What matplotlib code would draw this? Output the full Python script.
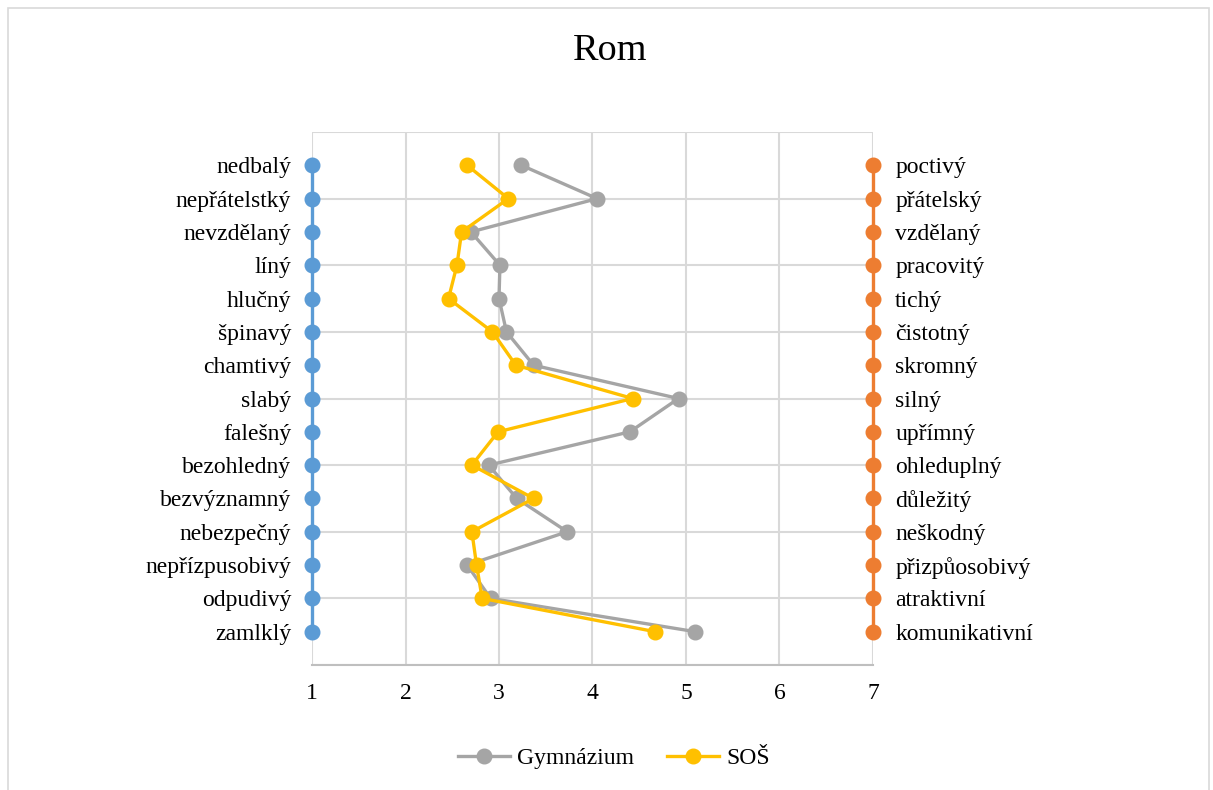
import matplotlib
matplotlib.use("Agg")
import matplotlib.pyplot as plt
from matplotlib.lines import Line2D

plt.rcParams['font.family'] = ['Liberation Serif', 'DejaVu Serif']

# Semantic differential: negative pole (left) and positive pole (right)
left_labels = ["nedbalý", "nepřátelstký", "nevzdělaný", "líný", "hlučný", "špinavý",
               "chamtivý", "slabý", "falešný", "bezohledný", "bezvýznamný",
               "nebezpečný", "nepřízpusobivý", "odpudivý", "zamlklý"]
right_labels = ["poctivý", "přátelský", "vzdělaný", "pracovitý", "tichý", "čistotný",
                "skromný", "silný", "upřímný", "ohleduplný", "důležitý",
                "neškodný", "přizpůosobivý", "atraktivní", "komunikativní"]

# Mean ratings on the 1–7 scale, listed top to bottom
gymnazium = [3.24, 4.05, 2.70, 3.01, 3.00, 3.08, 3.37, 4.92, 4.40, 2.89,
             3.19, 3.73, 2.66, 2.91, 5.10]
sos = [2.66, 3.10, 2.60, 2.55, 2.46, 2.93, 3.18, 4.43, 2.99, 2.71,
       3.37, 2.71, 2.76, 2.82, 4.67]

x_ticks = [1, 2, 3, 4, 5, 6, 7]

n = len(left_labels)
rows = [n - i for i in range(n)]  # 15 at the top, 1 at the bottom

W, H = 1213, 790
fig = plt.figure(figsize=(W / 100, H / 100), dpi=100)

# Outer chart frame
frame = plt.Rectangle((8 / W, -0.1), (1209 - 8) / W, 1.1 - 8 / H,
                      transform=fig.transFigure, fill=False,
                      edgecolor="#D9D9D9", linewidth=1.2)
fig.patches.append(frame)

ax = fig.add_axes([312 / W, 1 - 665 / H, (873 - 312) / W, (665 - 132) / H])
ax.set_xlim(1, 7)
ax.set_ylim(0, 16)

grid_c = "#D9D9D9"
for xv in x_ticks:
    ax.axvline(xv, color=grid_c, linewidth=1.5, zorder=0)
for yv in range(0, 17, 2):
    ax.axhline(yv, color=grid_c, linewidth=1.5, zorder=0)

for s in ax.spines.values():
    s.set_visible(False)
ax.spines['bottom'].set_visible(True)
ax.spines['bottom'].set_color("#BFBFBF")
ax.spines['bottom'].set_linewidth(1.5)

fs = 17.0
lw = 2.4
ms = 10.5

# Pole anchors
ax.plot([1] * n, rows, color="#5B9BD5", linewidth=lw, marker="o", markersize=ms,
        zorder=3, clip_on=False)
ax.plot([7] * n, rows, color="#ED7D31", linewidth=lw, marker="o", markersize=ms,
        zorder=3, clip_on=False)

# Group profiles
ax.plot(gymnazium, rows, color="#A5A5A5", linewidth=lw, marker="o", markersize=ms,
        zorder=4, label="Gymnázium")
ax.plot(sos, rows, color="#FFC000", linewidth=lw, marker="o", markersize=ms,
        zorder=5, label="SOŠ")

ax.set_xticks(x_ticks)
ax.set_xticklabels([str(v) for v in x_ticks], fontsize=fs)
ax.tick_params(axis='x', length=0, pad=13)

ax.set_yticks(rows)
ax.set_yticklabels(left_labels, fontsize=fs)
ax.tick_params(axis='y', length=0, pad=15)

ax2 = ax.twinx()
ax2.set_ylim(0, 16)
ax2.set_yticks(rows)
ax2.set_yticklabels(right_labels, fontsize=fs)
ax2.tick_params(axis='y', length=0, pad=16)
for s in ax2.spines.values():
    s.set_visible(False)

fig.text(610 / W, 1 - 51 / H, "Rom", fontsize=27.5, ha="center", va="center")

handles = [
    Line2D([], [], color="#A5A5A5", linewidth=lw, marker="o", markersize=ms),
    Line2D([], [], color="#FFC000", linewidth=lw, marker="o", markersize=ms),
]
fig.legend(handles, ["Gymnázium", "SOŠ"], loc="center",
           bbox_to_anchor=(614 / W, 1 - 758 / H), ncol=2, frameon=False,
           fontsize=fs, handlelength=2.2, handletextpad=0.3, columnspacing=1.4)

fig.savefig("out.png", dpi=100)
